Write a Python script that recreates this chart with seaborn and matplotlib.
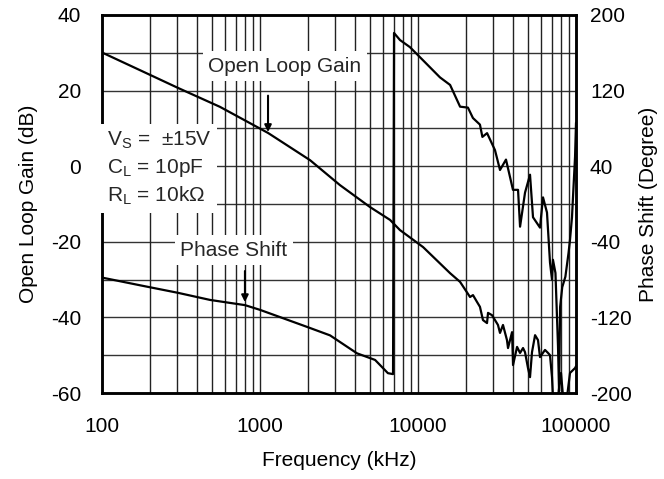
import numpy as np
import pandas as pd
import matplotlib
matplotlib.use("Agg")
import matplotlib.pyplot as plt
import seaborn as sns

# Open loop gain (dB) vs frequency
gain_freq = [101, 174, 303, 558, 1124, 2073, 3206, 4966, 6650, 7690, 10770,
             15960, 18460, 21340, 22280, 23620, 24660, 25770, 27330, 27740,
             29380, 30700, 32070, 33030, 34500, 36560, 37120, 39370, 39940,
             42350, 44240, 46200, 47560, 49670, 51150, 52650, 55060, 57460,
             59160, 63640, 66480, 68450, 70470, 71450, 76900, 80350, 82780,
             87740, 91600, 98600, 100000]
gain_db = [30.0, 25.4, 20.7, 15.7, 8.8, 1.6, -5.0, -10.8, -14.2, -16.9, -21.4,
           -28.3, -30.6, -34.6, -34.1, -35.9, -37.2, -40.7, -41.5, -38.8,
           -39.4, -40.7, -42.0, -44.1, -42.0, -46.0, -48.1, -43.9, -52.6,
           -47.8, -49.4, -48.1, -49.2, -53.4, -55.8, -49.2, -44.7, -46.0,
           -50.5, -48.6, -49.4, -50.0, -55.8, -61.0, -61.0, -54.7, -61.0,
           -61.0, -54.7, -53.4, -52.9]

# Phase shift (degree) vs frequency
phase_freq = [101, 174, 303, 483, 803, 1000, 1982, 2775, 4110, 5350, 6450,
              6950, 7050, 7690, 8890, 10770, 13770, 15960, 18460, 20700,
              22260, 24660, 25550, 27360, 30700, 33030, 36040, 39900, 42960,
              44240, 47560, 51150, 53430, 59160, 61820, 65500, 68450, 70470,
              71450, 74110, 76900, 78100, 79310, 81800, 85620, 89640, 91600,
              94290, 98600, 100000]
phase_deg = [-78, -86, -94, -101.5, -107, -112, -130, -139, -158, -165, -179,
             -180, 181, 173.5, 166, 152, 134, 126, 103, 102,
             91, 84, 71, 75, 57, 36, 47, 15, 15,
             -24, 12, 31, -14, -25, 7, -9, -62, -80,
             -59, -73, -150, -198, -109, -88, -77, -52, -38,
             -14, 50, 86]

gain_ticks = [-60, -40, -20, 0, 20, 40]
phase_ticks = [-200, -120, -40, 40, 120, 200]
freq_ticks = [100, 1000, 10000, 100000]

sns.set_style("white")
plt.rcParams["font.family"] = ["Liberation Sans", "DejaVu Sans"]
plt.rcParams["mathtext.fontset"] = "custom"
plt.rcParams["mathtext.rm"] = "Liberation Sans"
plt.rcParams["axes.unicode_minus"] = False

fig = plt.figure(figsize=(6.64, 4.79), dpi=100)
ax = fig.add_axes([0.1536, 0.1795, 0.7139, 0.7892])
ax2 = ax.twinx()

gain = pd.DataFrame({"freq": gain_freq, "db": gain_db})
phase = pd.DataFrame({"freq": phase_freq, "deg": phase_deg})

ax.set_xscale("log")
ax.set_xlim(100, 100000)
ax.set_ylim(-60, 40)
ax2.set_ylim(-200, 200)

# grid: every 10 dB, log minors vertically
for v in range(-50, 40, 10):
    ax.axhline(v, color="#333333", lw=1.0, zorder=1)
for dec in [100, 1000, 10000]:
    for m in range(1, 10):
        if dec * m > 100:
            ax.axvline(dec * m, color="#222222", lw=1.0, zorder=1)

sns.lineplot(data=gain, x="freq", y="db", ax=ax, color="black", lw=1.6,
             estimator=None, sort=False, zorder=3)
sns.lineplot(data=phase, x="freq", y="deg", ax=ax2, color="black", lw=1.6,
             estimator=None, sort=False, zorder=3)

ax.set_yticks(gain_ticks)
ax2.set_yticks(phase_ticks)
ax.set_xticks(freq_ticks)
ax.set_xticklabels([str(f) for f in freq_ticks])
ax.xaxis.set_minor_locator(matplotlib.ticker.NullLocator())
ax.tick_params(axis="both", length=0, labelsize=15, colors="black")
ax.tick_params(axis="y", pad=15)
ax.tick_params(axis="x", pad=17)
ax2.tick_params(axis="y", length=0, labelsize=15, pad=10, colors="black")

ax.set_xlabel("Frequency (kHz)", fontsize=15, labelpad=11, color="black")
ax.set_ylabel("Open Loop Gain (dB)", fontsize=15, labelpad=9, color="black")
ax2.set_ylabel("Phase Shift (Degree)", fontsize=15, labelpad=5, color="black")

for a in (ax, ax2):
    for s in a.spines.values():
        s.set_color("black")
        s.set_linewidth(1.8)

box = dict(facecolor="white", edgecolor="none", pad=4)
ax2.set_zorder(ax.get_zorder() + 1)
ax2.patch.set_visible(False)

ax2.text(1439, 26.5 * 4 + 40, "Open Loop Gain", fontsize=15, ha="center",
         va="center", bbox=box, zorder=4)
ax2.text(684, -22.2 * 4 + 40, "Phase Shift", fontsize=15, ha="center",
         va="center", bbox=box, zorder=4)
ax2.text(107, -0.6 * 4 + 40,
         "V$_\\mathregular{S}$ =  \u00b115V\nC$_\\mathregular{L}$ = 10pF\nR$_\\mathregular{L}$ = 10k\u03a9",
         fontsize=15, ha="left", va="center", linespacing=1.35, bbox=box, zorder=4)

arrow = dict(arrowstyle="-|>", color="black", lw=1.5, mutation_scale=10)
ax2.annotate("", xy=(1124, 8.3 * 4 + 40), xytext=(1124, 19.4 * 4 + 40),
             arrowprops=arrow, zorder=5)
ax2.annotate("", xy=(803, -36.7 * 4 + 40), xytext=(803, -27 * 4 + 40),
             arrowprops=arrow, zorder=5)

fig.savefig("out.png", dpi=100)
